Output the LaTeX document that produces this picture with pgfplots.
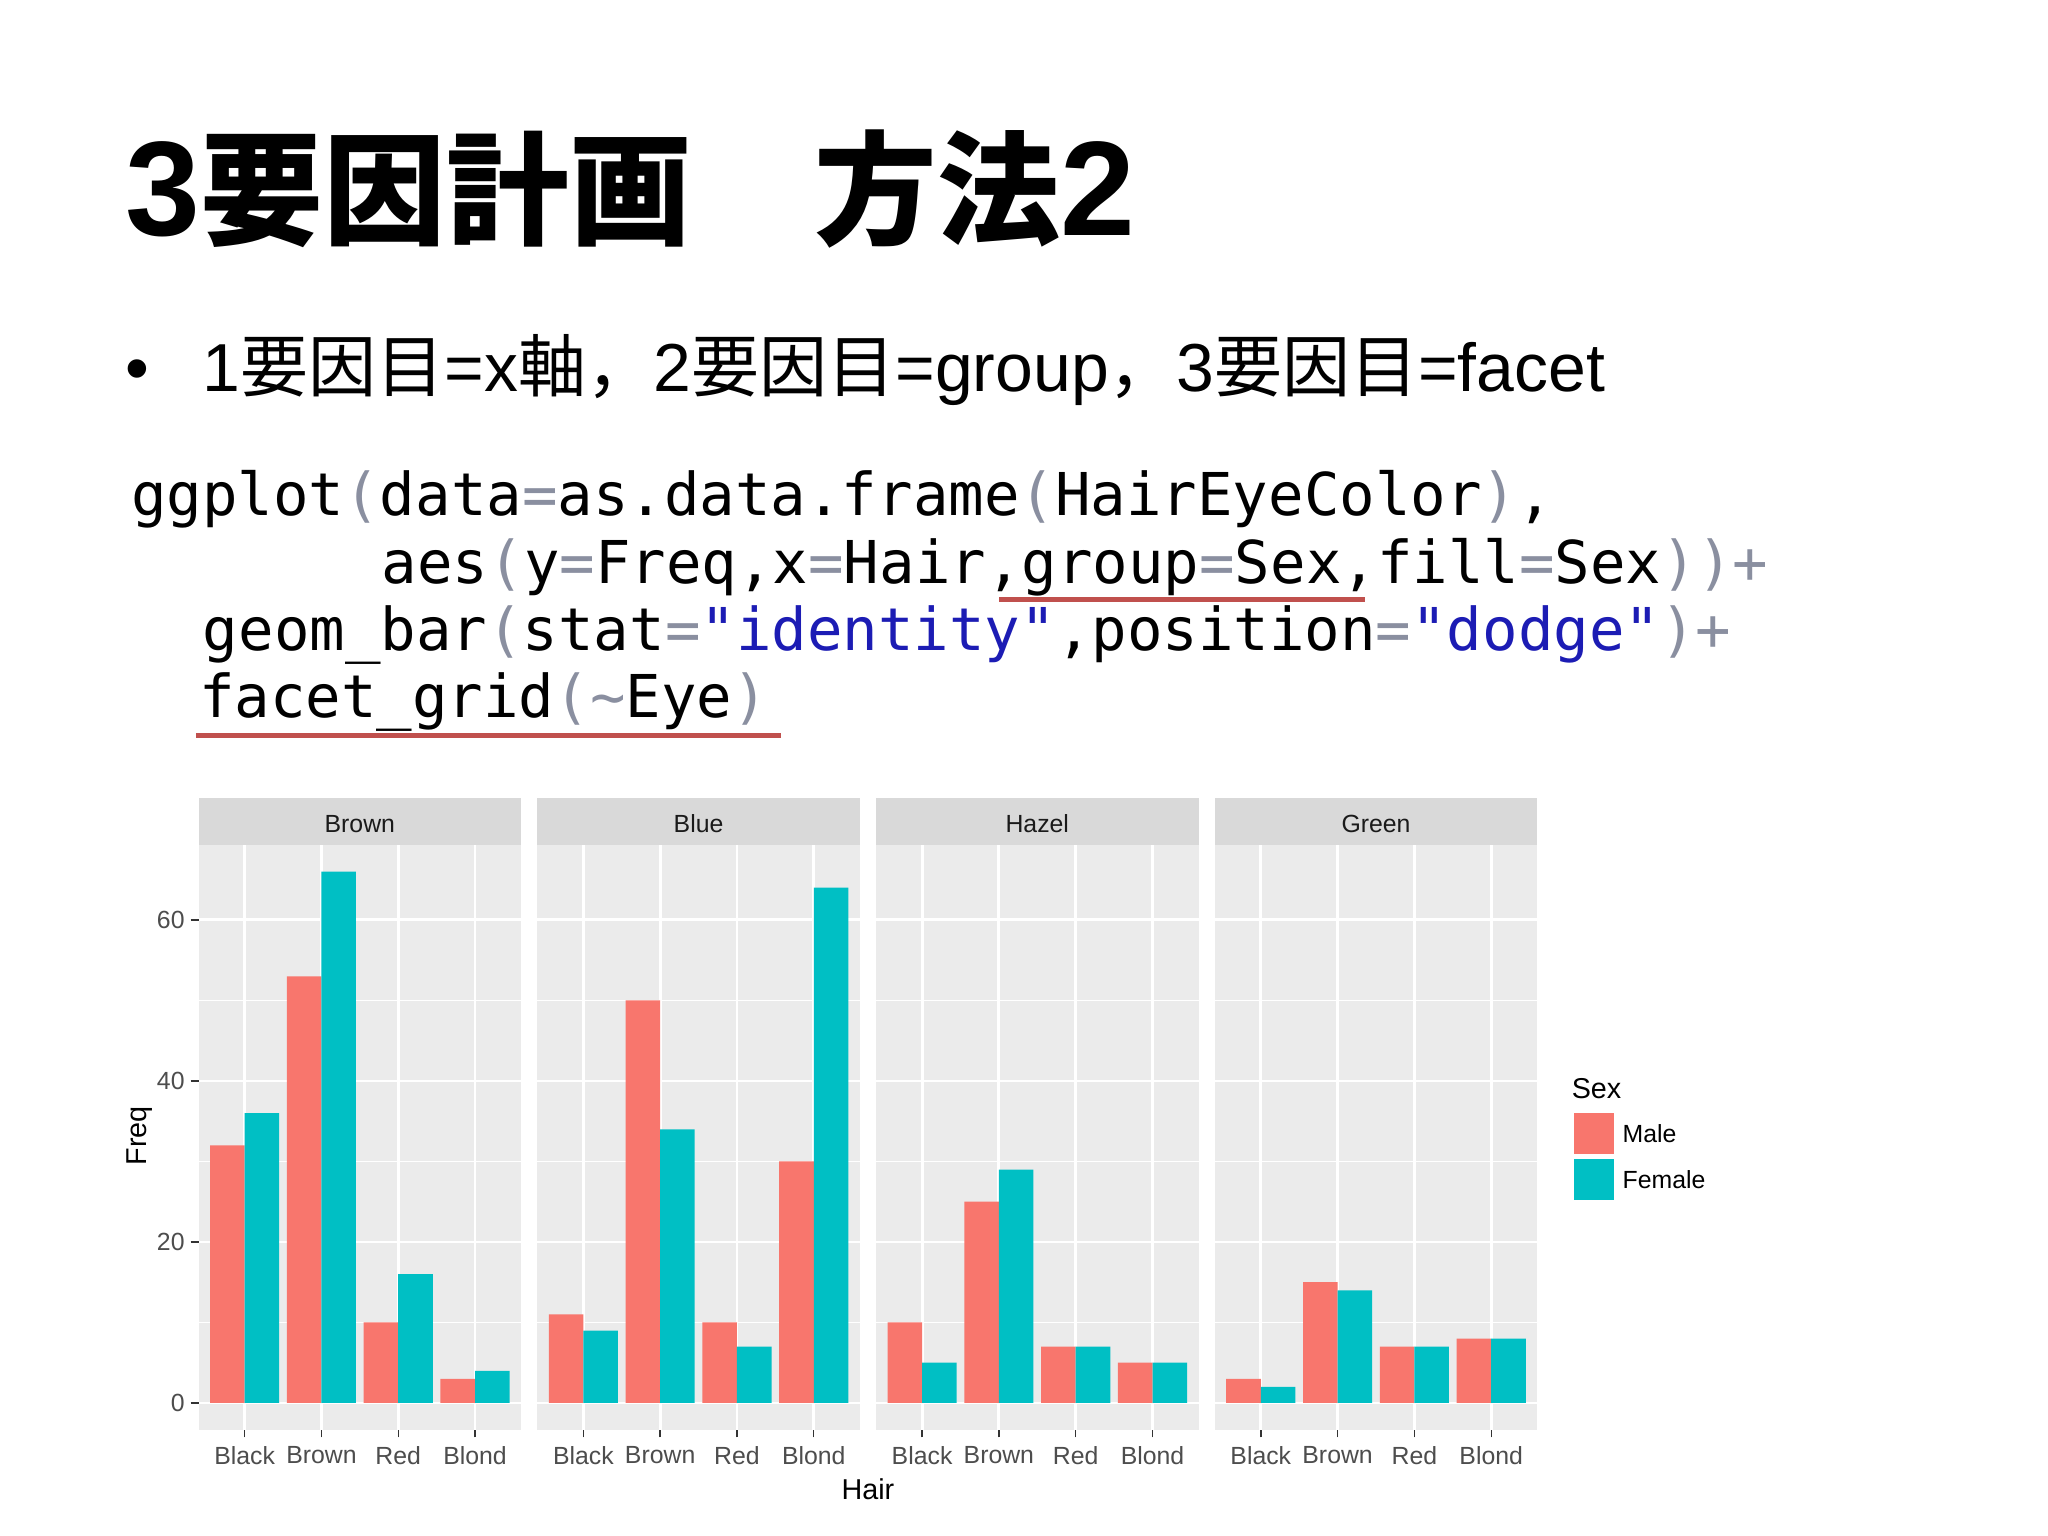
\documentclass[border=0pt]{standalone}
\usepackage{pgfplots}
\pgfplotsset{compat=1.18}
\usepackage{fontspec}
\setmainfont{Liberation Sans}
\newfontfamily\jpfont{Noto Sans CJK JP}
\newfontfamily\codefont{DejaVu Sans Mono}

\definecolor{male}{HTML}{F8766D}
\definecolor{female}{HTML}{00BFC4}
\definecolor{panelbg}{HTML}{EBEBEB}
\definecolor{stripbg}{HTML}{D9D9D9}
\definecolor{tickgray}{HTML}{4D4D4D}
\definecolor{tickmark}{HTML}{333333}
\definecolor{striptext}{HTML}{1A1A1A}
\definecolor{codeop}{HTML}{8A8FA0}
\definecolor{codestr}{HTML}{1C1CB4}
\definecolor{ulred}{HTML}{C0504D}

\newcommand\op[1]{\textcolor{codeop}{#1}}
\newcommand\str[1]{\textcolor{codestr}{#1}}
\newcommand\tl[1]{{\fontsize{51.5}{60}\selectfont\bfseries #1}}
\newcommand\tj[1]{{\jpfont\bfseries\fontsize{47}{60}\selectfont #1}}
\newcommand\bj[1]{{\jpfont #1}}

\pgfplotsset{
  sqlegend/.style={legend image code/.code={\fill[##1] (0pt,-7.75pt) rectangle (15.5pt,7.75pt);}},
  panel/.style={
    scale only axis, width=123.5pt, height=223.75pt,
    anchor=south west,
    xmin=0.4, xmax=4.6, ymin=-3.3, ymax=69.3,
    axis background/.style={fill=panelbg},
    axis line style={draw=none},
    xtick={1,2,3,4}, xticklabels={Black,Brown,Red,Blond},
    ytick={0,20,40,60}, minor ytick={10,30,50},
    grid=both,
    major grid style={white, line width=1.1pt},
    minor grid style={white, line width=0.55pt},
    tick align=outside, major tick length=3pt, minor tick length=0pt,
    xtick pos=bottom, ytick pos=left,
    tick style={tickmark, line width=0.55pt},
    tick label style={font=\fontsize{9.5}{11}\selectfont, text=tickgray},
    yticklabel style={xshift=1.2pt},
    /pgf/number format/assume math mode=true,
  },
  noy/.style={yticklabels={}, ytick style={draw=none}},
}

\begin{document}
\begin{tikzpicture}
\begin{scope}[x=0.5pt,y=-0.5pt]
  \fill[white] (0,0) rectangle (1568,1176);
  \useasboundingbox (0,0) rectangle (1568,1176);
  % title
  \node[anchor=base west, inner sep=0pt] at (96,180) {\tl{3}\tj{要因計画　方法}\tl{2}};
  % bullet
  \node[anchor=base west, inner sep=0pt] at (96,300) {\fontsize{26}{30}\selectfont •};
  \node[anchor=base west, inner sep=0pt] at (155,300) {\fontsize{26}{30}\selectfont 1\bj{要因目}=x\bj{軸，}2\bj{要因目}=group\bj{，}3\bj{要因目}=facet};
  % code
  \begin{scope}[every node/.style={anchor=base west, inner sep=0pt, font=\codefont\fontsize{22.6}{26}\selectfont}]
    \node at (100,395) {ggplot\op{(}data\op{=}as.data.frame\op{(}HairEyeColor\op{)},};
    \node at (292,447) {aes\op{(}y\op{=}Freq,x\op{=}Hair,group\op{=}Sex,fill\op{=}Sex\op{))+}};
    \node at (155,498) {geom\_bar\op{(}stat\op{=}\str{"identity"},position\op{=}\str{"dodge"}\op{)+}};
    \node at (152,549) {facet\_grid\op{(\textasciitilde}Eye\op{)}};
  \end{scope}
  \draw[ulred, line width=2pt] (765,459) -- (1045,459);
  \draw[ulred, line width=2pt] (150,563) -- (598,563);
  % panel anchors and strips
  \coordinate (P1) at (152,1094.5);
  \coordinate (P2) at (411.33,1094.5);
  \coordinate (P3) at (670.67,1094.5);
  \coordinate (P4) at (930,1094.5);
  \foreach \px/\lab in {152/Brown, 411.33/Blue, 670.67/Hazel, 930/Green}{
    \fill[stripbg] (\px,611) rectangle ({\px+247},647);
    \node[anchor=base, inner sep=0pt, text=striptext, font=\fontsize{9.5}{11}\selectfont] at ({\px+123.5},637.5) {\lab};
  }
  % axis titles
  \node[anchor=base, inner sep=0pt, font=\fontsize{11}{13}\selectfont] at (664.5,1148) {Hair};
  \node[anchor=base, inner sep=0pt, rotate=90, font=\fontsize{11}{13}\selectfont] at (112,869.5) {Freq};
  \node[anchor=base west, inner sep=0pt, font=\fontsize{11}{13}\selectfont] at (1203,841) {Sex};
\end{scope}

% Eye = Brown
\begin{axis}[panel, at={(P1)}]
  \addplot[ybar, bar width=0.45, bar shift=-0.225, fill=male, draw=none] coordinates {(1,32) (2,53) (3,10) (4,3)};
  \addplot[ybar, bar width=0.45, bar shift=0.225, fill=female, draw=none] coordinates {(1,36) (2,66) (3,16) (4,4)};
\end{axis}
% Eye = Blue
\begin{axis}[panel, noy, at={(P2)}]
  \addplot[ybar, bar width=0.45, bar shift=-0.225, fill=male, draw=none] coordinates {(1,11) (2,50) (3,10) (4,30)};
  \addplot[ybar, bar width=0.45, bar shift=0.225, fill=female, draw=none] coordinates {(1,9) (2,34) (3,7) (4,64)};
\end{axis}
% Eye = Hazel
\begin{axis}[panel, noy, at={(P3)}]
  \addplot[ybar, bar width=0.45, bar shift=-0.225, fill=male, draw=none] coordinates {(1,10) (2,25) (3,7) (4,5)};
  \addplot[ybar, bar width=0.45, bar shift=0.225, fill=female, draw=none] coordinates {(1,5) (2,29) (3,7) (4,5)};
\end{axis}
% Eye = Green
\begin{axis}[panel, noy, at={(P4)},
  legend style={at={(axis description cs:1.1134,0.5414)}, anchor=north west, draw=none, fill=none,
    inner sep=0pt, outer sep=0pt, row sep=2.25pt, font=\fontsize{9.5}{11}\selectfont,
    nodes={inner sep=0pt, anchor=west, text=black, yshift=-0.8pt},
    /tikz/every odd column/.append style={column sep=3.2pt}}]
  \addplot[ybar, bar width=0.45, bar shift=-0.225, fill=male, draw=none, sqlegend] coordinates {(1,3) (2,15) (3,7) (4,8)};
  \addlegendentry{Male}
  \addplot[ybar, bar width=0.45, bar shift=0.225, fill=female, draw=none, sqlegend] coordinates {(1,2) (2,14) (3,7) (4,8)};
  \addlegendentry{Female}
\end{axis}
\end{tikzpicture}
\end{document}
